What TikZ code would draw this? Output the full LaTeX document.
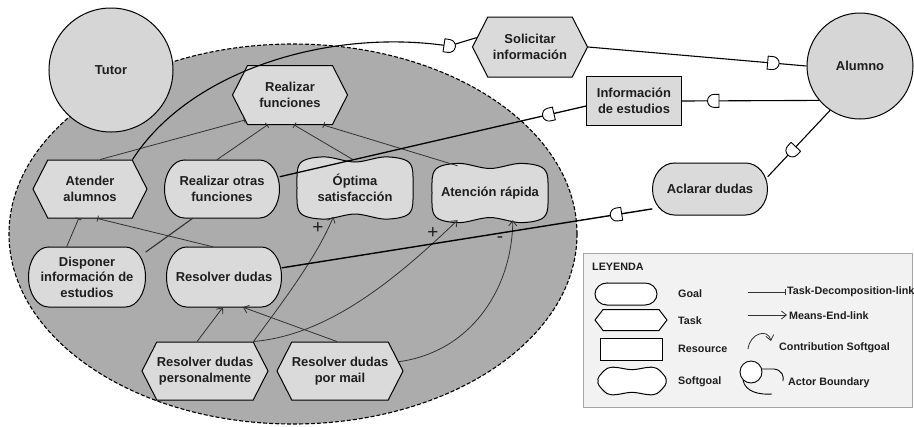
\documentclass[tikz,border=0pt]{standalone}
\usepackage{fontspec}
\setmainfont{Liberation Sans}
\usetikzlibrary{shapes.symbols,arrows.meta,decorations.markings}
\definecolor{bfill}{RGB}{172,172,172}
\definecolor{nfill}{RGB}{218,218,218}
\definecolor{cfill}{RGB}{214,214,214}
\definecolor{lfill}{RGB}{242,242,242}
\definecolor{lkc}{RGB}{50,50,50}
\definecolor{txc}{RGB}{30,30,30}
\newcommand\ndfont{\fontsize{13}{15.5}\selectfont\bfseries}
\newcommand\lgfont{\fontsize{10.8}{12}\selectfont\bfseries}
\newcommand\dsym{\filldraw[fill=white,draw=black,line width=0.9bp] (-5bp,6.5bp) -- (0bp,6.5bp) arc[start angle=90,end angle=-90,radius=6.5bp] -- (-5bp,-6.5bp) -- cycle;}
% goal outline: cx cy a b r fill
\newcommand\goalshape[6]{\filldraw[shp,fill=#6] (#1-#3+#5,#2-#4) -- (#1+#3-#5,#2-#4) arc[start angle=90,end angle=-90,x radius=#5bp,y radius=#4bp] -- (#1-#3+#5,#2+#4) arc[start angle=270,end angle=90,x radius=#5bp,y radius=#4bp] -- cycle;}
% softgoal outline: cx cy a b wave fill
\newcommand\softshape[6]{\filldraw[shp,fill=#6] plot[smooth cycle,tension=0.55] coordinates {(#1-#3+8,#2-#4) (#1-#3/2,#2-#4-#5) (#1,#2-#4+#5) (#1+#3/2,#2-#4-#5) (#1+#3-8,#2-#4) (#1+#3,#2-#4+8) (#1+#3+1,#2) (#1+#3,#2+#4-8) (#1+#3-8,#2+#4) (#1+#3/2,#2+#4+#5) (#1,#2+#4-#5) (#1-#3/2,#2+#4+#5) (#1-#3+8,#2+#4) (#1-#3,#2+#4-8) (#1-#3-1,#2) (#1-#3,#2-#4+8)};}
\begin{document}
\begin{tikzpicture}[x=1bp,y=-1bp,
  shp/.style={draw=black,line width=1bp},
  lbl/.style={rectangle,inner sep=0pt,font=\ndfont,text=txc,align=center},
  hexs/.style={signal,signal to=east and west,signal pointer angle=126,draw=black,line width=1bp,fill=nfill,inner sep=0pt,minimum width=115bp,minimum height=59bp,font=\ndfont,text=txc,align=center},
  actor/.style={circle,draw=black,line width=1bp,fill=cfill,inner sep=0pt,font=\ndfont,text=txc},
  td/.style={draw=lkc,line width=0.8bp,-{Bar[width=6bp,line width=0.8bp]}},
  me/.style={draw=lkc,line width=0.8bp,-{Straight Barb[length=5bp,width=8bp,line width=0.8bp]}},
  ctr/.style={draw=lkc,line width=0.8bp,-{Straight Barb[length=5bp,width=8bp,line width=0.8bp]}},
  plainlk/.style={draw=lkc,line width=1.1bp},
  dep/.style={draw=black,line width=1.1bp,postaction={decorate,decoration={markings,mark=at position #1 with {\dsym}}}},
  legt/.style={inner sep=0pt,font=\lgfont,text=txc,anchor=west},
  sign/.style={inner sep=0pt,font=\fontsize{19}{19}\selectfont,text=txc}]
\useasboundingbox (0,0) rectangle (914,426);
% actor boundary
\draw[fill=bfill,dash pattern=on 4bp off 2bp,line width=1.1bp] (293,234) ellipse [x radius=284bp,y radius=190bp];
% actors
\node[actor,minimum size=124bp] (tutor) at (111,70) {Tutor};
\node[actor,minimum size=106bp] (alumno) at (860,66) {Alumno};
% tasks
\node[hexs] (rf) at (290,95) {Realizar\\funciones};
\node[hexs,minimum width=114bp,minimum height=58bp] (aa) at (90,189) {Atender\\alumnos};
\node[hexs,minimum height=58bp] (rdp) at (205,371) {Resolver dudas\\personalmente};
\node[hexs,minimum height=58bp] (rdm) at (340,371) {Resolver dudas\\por mail};
\node[hexs,minimum height=60bp] (sol) at (530,47) {Solicitar\\información};
% goals
\goalshape{222}{189}{57.5}{29}{20}{nfill}
\node[lbl,minimum width=115bp,minimum height=58bp] (rof) at (222,189) {Realizar otras\\funciones};
\goalshape{87}{277}{58.5}{30}{20}{nfill}
\node[lbl,minimum width=117bp,minimum height=60bp] (dis) at (87,277) {Disponer\\información de\\estudios};
\goalshape{224}{277}{57.5}{30}{20}{nfill}
\node[lbl,minimum width=115bp,minimum height=60bp] (rd) at (224,277) {Resolver dudas};
\goalshape{710}{189}{57.5}{26}{22}{nfill}
\node[lbl,minimum width=115bp,minimum height=52bp] (ad) at (710,189) {Aclarar dudas};
% softgoals
\softshape{355}{188}{57}{28.5}{2.5}{nfill}
\node[lbl,minimum width=114bp,minimum height=57bp] (os) at (355,188) {Óptima\\satisfacción};
\softshape{490}{193}{57}{27}{2.5}{nfill}
\node[lbl,minimum width=114bp,minimum height=54bp] (ar) at (490,193) {Atención rápida};
% resource
\node[lbl,draw=black,line width=1bp,fill=nfill,minimum width=95bp,minimum height=49bp] (ie) at (634,101) {Información\\de estudios};
% decomposition links
\draw[td] (aa.71) -- (rf.209);
\draw[td] (rof.100) -- (rf.233);
\draw[td] (os.95) -- (rf.278);
\draw[td] (ar.140) -- (rf.318);
\draw[td] (dis.124) -- (aa.249);
\draw[td] (rd.110) -- (aa.284);
\draw[plainlk] (dis.23) -- (rof.225);
% means-end links
\draw[me] (rdp.105) -- (rd.268);
\draw[me] (rdm.96) -- (rd.302);
% contributions
\draw[ctr] (rdp.north east) .. controls (278,308) and (316,259) .. (os.233);
\draw[ctr] (rdp.north east) .. controls (330,335) and (398,277) .. (ar.220);
\draw[ctr] (rdm.9) .. controls (470,352) and (512,290) .. (ar.310);
\node[sign] (p1) at (318,228) {+};
\node[sign] (p2) at (433,233) {+};
\node[sign] (m1) at (500,240) {-};
% dependencies
\coordinate (d1) at (449,46);
\draw[dep=-29bp] (aa.north east) .. controls (190,70) and (330,28) .. (d1) -- (sol.170);
\draw[dep=-34bp] (sol.east) -- (alumno.west);
\draw[dep=-32bp] (alumno.220) -- (ie.east);
\draw[dep=38bp,line width=1.3bp] (ie.186) -- (rof.12);
\draw[dep=55bp] (alumno.236) -- (ad.12);
\draw[dep=36bp,line width=1.4bp] (ad.199) -- (rd.9);
% legend
\draw[fill=lfill,draw=gray!70,line width=0.8bp] (583,253) rectangle (912,407);
\node[legt] (ley) at (592,267) {LEYENDA};
\goalshape{626}{294}{31}{11}{12}{white}
\node[hexs,fill=white,minimum width=72bp,minimum height=21bp,signal pointer angle=105] (ltask) at (631,320) {};
\node[draw=black,line width=1bp,fill=white,minimum width=62bp,minimum height=22bp,inner sep=0pt] (lres) at (631,349) {};
\softshape{632}{381}{33}{12.5}{1.2}{white}
\node[legt] (lgoal) at (678,294) {Goal};
\node[legt] (ltaskt) at (678,321) {Task};
\node[legt] (lrest) at (678,349) {Resource};
\node[legt] (lsoft) at (678,382) {Softgoal};
\coordinate (t1) at (748,292);
\coordinate (t2) at (786,292);
\draw[td] (t1) -- (t2);
\node[legt] (ltd) at (787,292) {Task-Decomposition-link};
\coordinate (m1a) at (748,315);
\coordinate (m1b) at (787,315);
\draw[me] (m1a) -- (m1b);
\node[legt] (lme) at (789,316) {Means-End-link};
\coordinate (c1a) at (748,349);
\coordinate (c1b) at (771,341);
\draw[ctr] (c1a) .. controls (750,333) and (768,328) .. (c1b);
\node[legt] (lct) at (779,348) {Contribution Softgoal};
\draw[draw=black,line width=0.9bp,fill=white] (751,372) circle[radius=11bp];
\draw[draw=black,line width=0.9bp] (762,369) -- (774,369) .. controls (782,370) and (784,376) .. (783,381);
\draw[draw=black,line width=0.9bp] (743,380) .. controls (745,392) and (760,395) .. (772,394);
\node[legt] (lab) at (788,383) {Actor Boundary};
\end{tikzpicture}
\end{document}
